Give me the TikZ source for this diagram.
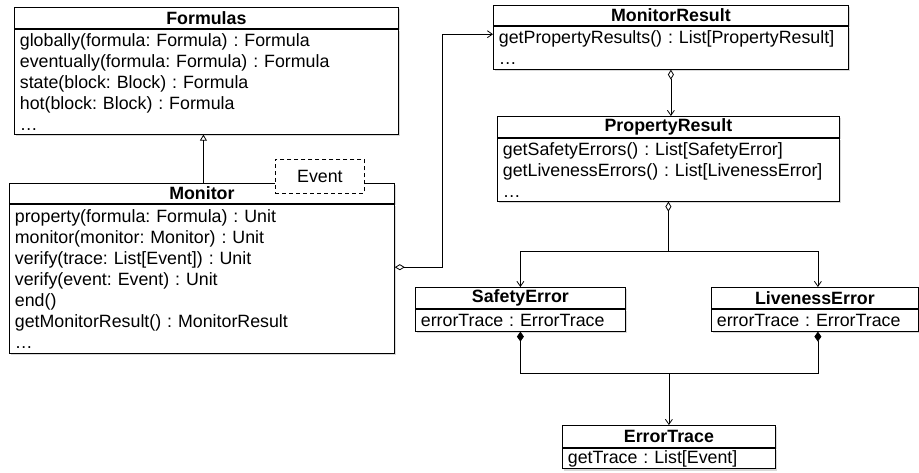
\documentclass[tikz,border=0pt]{standalone}
\usepackage{fontspec}
\setmainfont{Liberation Sans}
\frenchspacing
\usetikzlibrary{arrows.meta}
\usetikzlibrary{positioning}
\usetikzlibrary{shadows}

\begin{document}
\begin{tikzpicture}[x=1pt, y=-1pt, line width=0.8pt,
    classhead/.style={draw, fill=white, anchor=north west, inner sep=0pt,
        font=\fontsize{17.8}{21}\selectfont\bfseries,
        drop shadow={shadow xshift=1.5pt, shadow yshift=-2pt, opacity=0.3}},
    classbody/.style={draw, fill=white, inner xsep=5.5pt, inner ysep=2pt, align=left,
        font=\fontsize{17.8}{21}\selectfont,
        drop shadow={shadow xshift=1.5pt, shadow yshift=-2pt, opacity=0.3}},
    tmpl/.style={draw, fill=white, anchor=north west, dash pattern=on 4pt off 3pt,
        font=\fontsize{17.8}{21}\selectfont},
    gen/.style={-{Triangle[open, length=6pt, width=7pt]}},
    nav/.style={-{Straight Barb[length=5pt, width=7pt]}},
    aggr/.style={{Diamond[open, length=10pt, width=6pt]}-{Straight Barb[length=5pt, width=7pt]}},
    hold/.style={{Diamond[open, length=10pt, width=6pt]}-},
    comp/.style={{Diamond[length=10pt, width=7pt]}-}]

    \useasboundingbox (0, 0) rectangle (919, 472);

    \coordinate (F) at (14, 7);
    \coordinate (M) at (9, 183);
    \coordinate (E) at (275, 159);
    \coordinate (R) at (493, 5);
    \coordinate (P) at (497, 116);
    \coordinate (S) at (415, 287);
    \coordinate (L) at (711, 287);
    \coordinate (T) at (562, 425);

%classes
    \node[classhead, minimum width=384pt, minimum height=21pt] (fhead) at (F) {Formulas};
    \node[classbody, below=0pt of fhead, text width=373pt, minimum height=105pt] (fbody)
        {globally(formula: Formula) : Formula\\
         eventually(formula: Formula) : Formula\\
         state(block: Block) : Formula\\
         hot(block: Block) : Formula\\
         …};

    \node[classhead, minimum width=385pt, minimum height=20pt] (mhead) at (M) {Monitor};
    \node[classbody, below=0pt of mhead, text width=374pt, minimum height=149pt] (mbody)
        {property(formula: Formula) : Unit\\
         monitor(monitor: Monitor) : Unit\\
         verify(trace: List[Event]) : Unit\\
         verify(event: Event) : Unit\\
         end()\\
         getMonitorResult() : MonitorResult\\
         …};
    \node[tmpl, minimum width=89pt, minimum height=34pt] (evt) at (E) {Event};

    \node[classhead, minimum width=355pt, minimum height=20pt] (rhead) at (R) {MonitorResult};
    \node[classbody, below=0pt of rhead, text width=344pt, minimum height=43pt] (rbody)
        {getPropertyResults() : List[PropertyResult]\\
         …};

    \node[classhead, minimum width=342pt, minimum height=21pt] (phead) at (P) {PropertyResult};
    \node[classbody, below=0pt of phead, text width=331pt, minimum height=63pt] (pbody)
        {getSafetyErrors() : List[SafetyError]\\
         getLivenessErrors() : List[LivenessError]\\
         …};

    \node[classhead, minimum width=210pt, minimum height=21pt] (shead) at (S) {SafetyError};
    \node[classbody, below=0pt of shead, text width=199pt, minimum height=22pt] (sbody)
        {errorTrace : ErrorTrace};

    \node[classhead, minimum width=207pt, minimum height=21pt] (lhead) at (L) {LivenessError};
    \node[classbody, below=0pt of lhead, text width=196pt, minimum height=22pt] (lbody)
        {errorTrace : ErrorTrace};

    \node[classhead, minimum width=213pt, minimum height=22pt] (thead) at (T) {ErrorTrace};
    \node[classbody, below=0pt of thead, text width=202pt, minimum height=20pt] (tbody)
        {getTrace : List[Event]};

%links
    \draw[gen] ([xshift=1.5pt]mhead.north) -- ([xshift=1.5pt]mhead.north |- fbody.south);
    \draw[aggr] ([yshift=11.5pt]mbody.east) -- ++(48, 0) |- ([yshift=13.5pt]rbody.west);
    \draw[aggr] (rbody.south) -- (rbody.south |- phead.north);

    \draw[hold] (pbody.south) -- ++(0, 50) coordinate (split);
    \draw[nav] (split) -| (shead.north);
    \draw[nav] (split) -| ([xshift=3pt]lhead.north);

    \coordinate (join) at ([yshift=52pt]thead.north);
    \draw[comp] (sbody.south) |- (join);
    \draw[comp] ([xshift=3pt]lbody.south) |- (join);
    \draw[nav] (join) -- (thead.north);

\end{tikzpicture}
\end{document}
